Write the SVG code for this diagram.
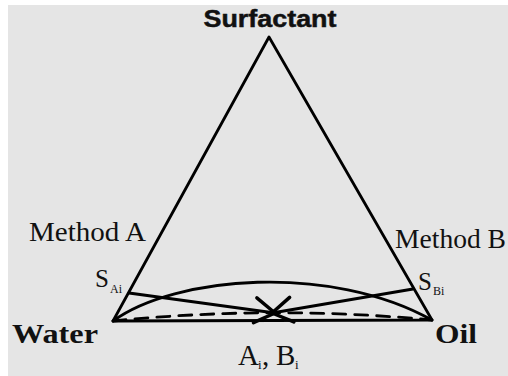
<svg xmlns="http://www.w3.org/2000/svg" width="508" height="376" viewBox="0 0 508 376">
<defs>
<style>
.ln{fill:none;stroke:#000;stroke-width:2.8;stroke-linecap:round;stroke-linejoin:round}
.serif{font-family:"Liberation Serif","Times New Roman",serif;fill:#111}
.bold{font-weight:bold}
</style>
<marker id="chev" markerUnits="userSpaceOnUse" markerWidth="30" markerHeight="30" refX="0" refY="0" viewBox="-18 -12 22 24" orient="auto" overflow="visible">
<path d="M-16,-10 L0,0 L-16,10" fill="none" stroke="#000" stroke-width="2.8" stroke-linecap="round" stroke-linejoin="round"/>
</marker>
</defs>
<rect x="0" y="0" width="508" height="376" fill="#ffffff"/>
<rect x="8" y="5" width="500" height="371" fill="#e5e5e5"/>
<g id="triangle">
<path class="ln" d="M113,321 L269,37 L432,320 Z" stroke-width="3"/>
</g>
<g id="connectors">
<path class="ln" d="M113,321 C175,276 330,263 432,320"/>
<path class="ln" d="M113,321 Q272,305 432,320" stroke-dasharray="13,9" stroke-linecap="butt"/>
<path class="ln" d="M129,293 L275,313" marker-end="url(#chev)"/>
<path class="ln" d="M413,289 L272,313" marker-end="url(#chev)"/>
</g>
<g id="surfactant">
<text x="270" y="27" text-anchor="middle" font-family="'Liberation Sans',Arial,sans-serif" font-weight="bold" font-size="24" textLength="133" lengthAdjust="spacingAndGlyphs" fill="#111" stroke="#111" stroke-width="0.5">Surfactant</text>
</g>
<g id="water">
<text class="serif bold" x="12" y="343" font-size="28" textLength="86" lengthAdjust="spacingAndGlyphs">Water</text>
</g>
<g id="oil">
<text class="serif bold" x="435" y="343" font-size="28" textLength="42" lengthAdjust="spacingAndGlyphs">Oil</text>
</g>
<g id="methodA">
<text class="serif" x="29" y="241" font-size="27" textLength="117" lengthAdjust="spacingAndGlyphs">Method A</text>
</g>
<g id="methodB">
<text class="serif" x="395" y="248" font-size="27" textLength="111" lengthAdjust="spacingAndGlyphs">Method B</text>
</g>
<g id="sai">
<text class="serif" x="95" y="287" font-size="25">S<tspan x="110" y="293" font-size="12">Ai</tspan></text>
</g>
<g id="sbi">
<text class="serif" x="418" y="290" font-size="25">S<tspan x="433" y="295" font-size="12">Bi</tspan></text>
</g>
<g id="aibi">
<text class="serif" x="238" y="365" font-size="29">A<tspan x="258" y="369" font-size="13">i</tspan><tspan x="262" y="365">,</tspan><tspan x="276" y="365">B</tspan><tspan x="295" y="369" font-size="13">i</tspan></text>
</g>
</svg>
